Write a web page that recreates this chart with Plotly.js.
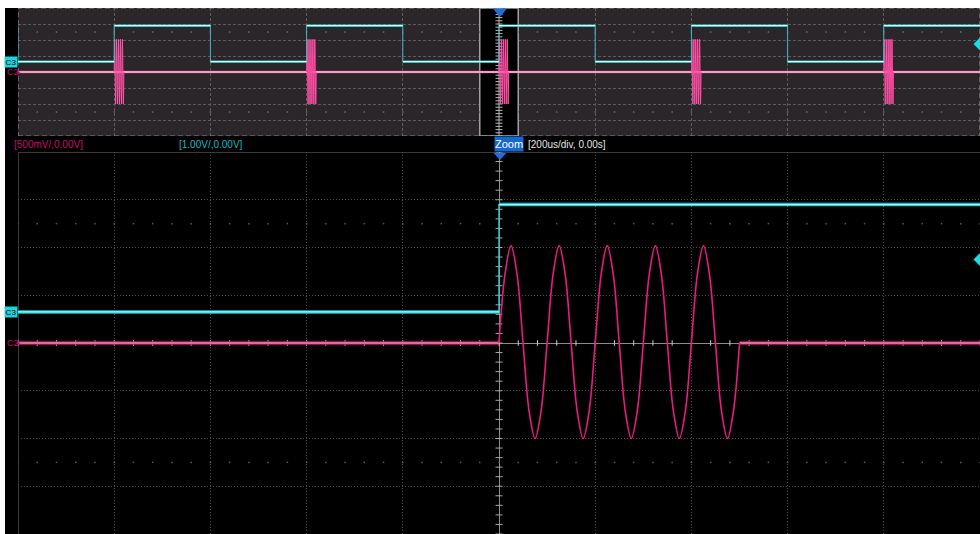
<!DOCTYPE html>
<html><head><meta charset="utf-8">
<script src="https://cdn.plot.ly/plotly-3.0.1.min.js"></script>
<style>html,body{margin:0;padding:0;background:#fff;overflow:hidden}#chart{width:980px;height:534px}</style>
</head><body><div id="chart"></div>
<script>
// Channel settings
const c2VoltsPerDiv = 0.5;      // C2: 500 mV/div
const c3VoltsPerDiv = 1.0;      // C3: 1.00 V/div
const c3OffsetDiv = 0.65;       // C3 ground marker sits 0.65 div above centre
const c3TrigLevel = 1.1;        // trigger level on C3 (V)

// Zoomed (main) window: time in microseconds, 200 us/div
const mainC3T = [-1000, 0, 0, 1000];
const mainC3V = [0, 0, 2.25, 2.25];
const mainC2BaseT = [-1000, 0, null, 500, 1000];
const mainC2BaseV = [0, 0, null, 0, 0];
// C2 sine burst (10 kHz, 5 cycles), sampled every 1/8 cycle (12.5 us)
const burstT = [0,12.5,25,37.5,50,62.5,75,87.5,100,112.5,125,137.5,150,162.5,175,187.5,200,212.5,225,237.5,250,262.5,275,287.5,300,312.5,325,337.5,350,362.5,375,387.5,400,412.5,425,437.5,450,462.5,475,487.5,500];
const burstV = [0,0.72,1.02,0.72,0,-0.71,-1.0,-0.71,
                0,0.72,1.02,0.72,0,-0.71,-1.0,-0.71,
                0,0.72,1.02,0.72,0,-0.71,-1.0,-0.71,
                0,0.72,1.02,0.72,0,-0.71,-1.0,-0.71,
                0,0.72,1.02,0.72,0,-0.71,-1.0,-0.71,
                0];

// Overview window: time in milliseconds, 5 ms/div
const ovC3T = [-25,-25,-20,-20,-15,-15,-10,-10,-5,-5,0,0,5,5,10,10,15,15,20,20,25];
const ovC3V = [2.25,0,0,2.25,2.25,0,0,2.25,2.25,0,0,2.25,2.25,0,0,2.25,2.25,0,0,2.25,2.25];
const ovBurstStartsMs = [-20, -10, 0, 10, 20];
const ovC2BaseT = [-25, 25];
const ovC2BaseV = [0, 0];

// Labels
const c2Label = '[500mV/,0.00V]';
const c3Label = '[1.00V/,0.00V]';
const zoomLabel = 'Zoom';
const timebaseLabel = '[200us/div, 0.00s]';

// ---------------- Helpers ----------------
const W = 980, H = 534;
const px = x => x / W, py = y => 1 - y / H;
function horizOnly(t, v){ // break the path at vertical edges
  const x=[], y=[];
  for(let i=0;i<t.length;i++){
    if(i>0 && t[i]!==null && t[i]===t[i-1]){ x.push(null); y.push(null); }
    x.push(t[i]); y.push(v[i]);
  }
  return {x, y};
}
function range(a,b,s){ const r=[]; for(let k=0;a+k*s<=b+1e-9;k++) r.push(+(a+k*s).toFixed(6)); return r; }

const ovBurstX=[], ovBurstY=[];
ovBurstStartsMs.forEach(s=>{
  burstT.forEach((t,i)=>{ ovBurstX.push(s + t/1000); ovBurstY.push(burstV[i]); });
  ovBurstX.push(null); ovBurstY.push(null);
});

const c2Range = [-4*c2VoltsPerDiv, 4*c2VoltsPerDiv];
const c3Range = [(-4 - c3OffsetDiv)*c3VoltsPerDiv, (4 - c3OffsetDiv)*c3VoltsPerDiv];

const traces = [];
// decorations: sparse dot rows, centre ticks
const ovDotX = range(-25,25,1);
traces.push({x: ovDotX.concat(ovDotX), y: ovDotX.map(()=>2.5).concat(ovDotX.map(()=>-2.5)), xaxis:'x', yaxis:'y', mode:'markers', marker:{symbol:'square', size:1.5, color:'#6a6a6a'}, hoverinfo:'skip'});
const mDotX = range(-1000,1000,40);
traces.push({x: mDotX.concat(mDotX), y: mDotX.map(()=>2.5).concat(mDotX.map(()=>-2.5)), xaxis:'x2', yaxis:'y2', mode:'markers', marker:{symbol:'square', size:1.5, color:'#5a5a5a'}, hoverinfo:'skip'});
const vTicks = range(-4,4,0.2);
traces.push({x: vTicks.map(()=>0), y: vTicks, xaxis:'x2', yaxis:'y2', mode:'markers', marker:{symbol:'line-ew', size:5, line:{color:'#a8a8a8', width:1}}, hoverinfo:'skip'});
traces.push({x: vTicks.map(()=>0), y: vTicks, xaxis:'x', yaxis:'y', mode:'markers', marker:{symbol:'line-ew', size:5, line:{color:'#b8b8b8', width:1}}, hoverinfo:'skip'});

// Overview C3
const ovC3H = horizOnly(ovC3T, ovC3V);
traces.push({x: ovC3T, y: ovC3V, xaxis:'x', yaxis:'y4', mode:'lines', line:{color:'#3fb9bf', width:1}, hoverinfo:'skip'});
traces.push({x: ovC3H.x, y: ovC3H.y, xaxis:'x', yaxis:'y4', mode:'lines', line:{color:'#22c9cf', width:2.4}, connectgaps:false, hoverinfo:'skip'});
traces.push({x: ovC3H.x, y: ovC3H.y, xaxis:'x', yaxis:'y4', mode:'lines', line:{color:'#d2ffff', width:1.1}, connectgaps:false, hoverinfo:'skip'});
// Overview C2
traces.push({x: ovC2BaseT, y: ovC2BaseV, xaxis:'x', yaxis:'y3', mode:'lines', line:{color:'#d4247c', width:2.4}, hoverinfo:'skip'});
traces.push({x: ovC2BaseT, y: ovC2BaseV, xaxis:'x', yaxis:'y3', mode:'lines', line:{color:'#f4d0de', width:1.5}, hoverinfo:'skip'});
traces.push({x: ovBurstX, y: ovBurstY, xaxis:'x', yaxis:'y3', mode:'lines', line:{color:'#ff2e96', width:1}, connectgaps:false, hoverinfo:'skip'});
traces.push({x: ovBurstX, y: ovBurstY, xaxis:'x', yaxis:'y3', mode:'lines', line:{color:'rgba(240,200,215,0.35)', width:0.5}, connectgaps:false, hoverinfo:'skip'});

// Main C3
const mC3H = horizOnly(mainC3T, mainC3V);
traces.push({x: mainC3T, y: mainC3V, xaxis:'x2', yaxis:'y6', mode:'lines', line:{color:'#2ad2d8', width:1.4}, hoverinfo:'skip'});
traces.push({x: mC3H.x, y: mC3H.y, xaxis:'x2', yaxis:'y6', mode:'lines', line:{color:'#14c4cc', width:3.6}, connectgaps:false, hoverinfo:'skip'});
traces.push({x: mC3H.x, y: mC3H.y, xaxis:'x2', yaxis:'y6', mode:'lines', line:{color:'#aaf6f6', width:1.2}, connectgaps:false, hoverinfo:'skip'});
// Main C2
traces.push({x: mainC2BaseT, y: mainC2BaseV, xaxis:'x2', yaxis:'y5', mode:'lines', line:{color:'#c8106a', width:3.4}, connectgaps:false, hoverinfo:'skip'});
traces.push({x: mainC2BaseT, y: mainC2BaseV, xaxis:'x2', yaxis:'y5', mode:'lines', line:{color:'#ffc2dc', width:1}, connectgaps:false, hoverinfo:'skip'});
traces.push({x: burstT, y: burstV, xaxis:'x2', yaxis:'y5', mode:'lines', line:{color:'#e81c80', width:1.6, shape:'spline', smoothing:1}, hoverinfo:'skip'});

// horizontal centre ticks drawn over the C2 baseline
const hTicks = range(-1000,1000,40);
traces.push({x: hTicks, y: hTicks.map(()=>0), xaxis:'x2', yaxis:'y2', mode:'markers', marker:{symbol:'line-ns', size:4, line:{color:'#cfcfcf', width:1}}, hoverinfo:'skip'});

// trigger level diamonds
traces.push({x:[25], y:[c3TrigLevel], xaxis:'x', yaxis:'y4', mode:'markers', marker:{symbol:'diamond', size:10, color:'#18dfe6'}, hoverinfo:'skip'});
traces.push({x:[1000], y:[c3TrigLevel], xaxis:'x2', yaxis:'y6', mode:'markers', marker:{symbol:'diamond', size:10, color:'#18dfe6'}, hoverinfo:'skip'});

const xDom = [px(18), 1];
const ovDom = [py(136), py(8)];
const mDom = [0, py(152)];
const hid = {showticklabels:false, ticks:'', showline:false, zeroline:false, showgrid:false, fixedrange:true};

const layout = {
  width: W, height: H, margin:{l:0,r:0,t:0,b:0},
  paper_bgcolor:'#ffffff', plot_bgcolor:'rgba(0,0,0,0)', showlegend:false,
  font:{family:'Liberation Sans, Arial, sans-serif'},
  xaxis: Object.assign({}, hid, {domain:xDom, range:[-25,25], anchor:'y', showgrid:true, dtick:5, tick0:0, gridcolor:'#5e5c5e', griddash:'3px,2px', gridwidth:1}),
  yaxis: Object.assign({}, hid, {domain:ovDom, range:[-4,4], anchor:'x', showgrid:true, dtick:1, tick0:0, gridcolor:'#5e5c5e', griddash:'3px,2px', gridwidth:1}),
  yaxis3: Object.assign({}, hid, {overlaying:'y', anchor:'x', range:c2Range}),
  yaxis4: Object.assign({}, hid, {overlaying:'y', anchor:'x', range:c3Range}),
  xaxis2: Object.assign({}, hid, {domain:xDom, range:[-1000,1000], anchor:'y2', showgrid:true, dtick:200, tick0:0, gridcolor:'#4e4e4e', griddash:'1px,2px', gridwidth:1, zeroline:true, zerolinecolor:'#8c8c8c', zerolinewidth:1}),
  yaxis2: Object.assign({}, hid, {domain:mDom, range:[-4,4], anchor:'x2', showgrid:true, dtick:1, tick0:0, gridcolor:'#4e4e4e', griddash:'1px,2px', gridwidth:1, zeroline:true, zerolinecolor:'#8c8c8c', zerolinewidth:1}),
  yaxis5: Object.assign({}, hid, {overlaying:'y2', anchor:'x2', range:c2Range}),
  yaxis6: Object.assign({}, hid, {overlaying:'y2', anchor:'x2', range:c3Range}),
  shapes: [
    {type:'rect', xref:'paper', yref:'paper', x0:px(5), x1:1, y0:0, y1:py(8), fillcolor:'#000000', line:{width:0}, layer:'below'},
    {type:'rect', xref:'x', yref:'y', x0:-25, x1:25, y0:-4, y1:4, fillcolor:'#2a2629', line:{width:0}, layer:'below'},
    {type:'rect', xref:'x', yref:'y', x0:-1, x1:1, y0:-4, y1:4, fillcolor:'#000000', line:{width:0}, layer:'between'},
    {type:'line', xref:'x', yref:'y', x0:0, x1:0, y0:-4, y1:4, line:{color:'#b0b0b0', width:1}, layer:'between'},
    {type:'rect', xref:'x', yref:'y', x0:-25, x1:25, y0:-4, y1:4, line:{color:'#8a8a8a', width:1.2, dash:'5px,3px'}, layer:'between'},
    {type:'rect', xref:'x', yref:'y', x0:-1, x1:1, y0:-4, y1:4, line:{color:'#a0a0a0', width:1.5}, layer:'between'},
    {type:'line', xref:'paper', yref:'paper', x0:px(18), x1:1, y0:py(152.5), y1:py(152.5), line:{color:'#3a3a3a', width:1}, layer:'between'},
    {type:'line', xref:'paper', yref:'paper', x0:px(18.5), x1:px(18.5), y0:0, y1:py(152.5), line:{color:'#3a3a3a', width:1}, layer:'between'},
    {type:'path', xref:'paper', yref:'paper', path:`M ${px(493)} ${py(8.5)} L ${px(507)} ${py(8.5)} L ${px(500)} ${py(17)} Z`, fillcolor:'#1f6fd8', line:{width:0}, layer:'above'},
    {type:'path', xref:'paper', yref:'paper', path:`M ${px(493.5)} ${py(153)} L ${px(506.5)} ${py(153)} L ${px(500)} ${py(160)} Z`, fillcolor:'#1f6fd8', line:{width:0}, layer:'above'}
  ],
  annotations: [
    {xref:'paper', yref:'paper', x:px(12), y:py(144.5), xanchor:'left', yanchor:'middle', text:c2Label, showarrow:false, font:{size:10, color:'#c4106c'}},
    {xref:'paper', yref:'paper', x:px(177), y:py(144.5), xanchor:'left', yanchor:'middle', text:c3Label, showarrow:false, font:{size:10, color:'#1cb9c0'}},
    {xref:'paper', yref:'paper', x:px(494), y:py(144.5), xanchor:'left', yanchor:'middle', text:zoomLabel, showarrow:false, bgcolor:'#1767d0', width:28, height:14, borderpad:0, font:{size:11, color:'#ffffff'}},
    {xref:'paper', yref:'paper', x:px(526), y:py(144.5), xanchor:'left', yanchor:'middle', text:timebaseLabel, showarrow:false, font:{size:10, color:'#e4e4e4'}},
    {xref:'paper', yref:'y4', x:px(11), y:0, xanchor:'center', yanchor:'middle', text:'C3', showarrow:false, bgcolor:'#1dd5dc', width:12, height:10, borderpad:0, font:{size:8, color:'#000000'}},
    {xref:'paper', yref:'y6', x:px(11), y:0, xanchor:'center', yanchor:'middle', text:'C3', showarrow:false, bgcolor:'#1dd5dc', width:12, height:10, borderpad:0, font:{size:8, color:'#000000'}},
    {xref:'paper', yref:'y3', x:px(5), y:0, xanchor:'left', yanchor:'middle', text:'C2', showarrow:false, font:{size:9, color:'#c0106c'}},
    {xref:'paper', yref:'y5', x:px(5), y:0, xanchor:'left', yanchor:'middle', text:'C2', showarrow:false, font:{size:9, color:'#c0106c'}},
    {xref:'paper', yref:'y3', x:px(15), y:0, xanchor:'left', yanchor:'middle', text:'▸', showarrow:false, font:{size:7, color:'#c0106c', family:'DejaVu Sans'}},
    {xref:'paper', yref:'y5', x:px(15), y:0, xanchor:'left', yanchor:'middle', text:'▸', showarrow:false, font:{size:7, color:'#c0106c', family:'DejaVu Sans'}}
  ]
};
Plotly.newPlot('chart', traces, layout, {staticPlot:true, displayModeBar:false});
</script></body></html>
